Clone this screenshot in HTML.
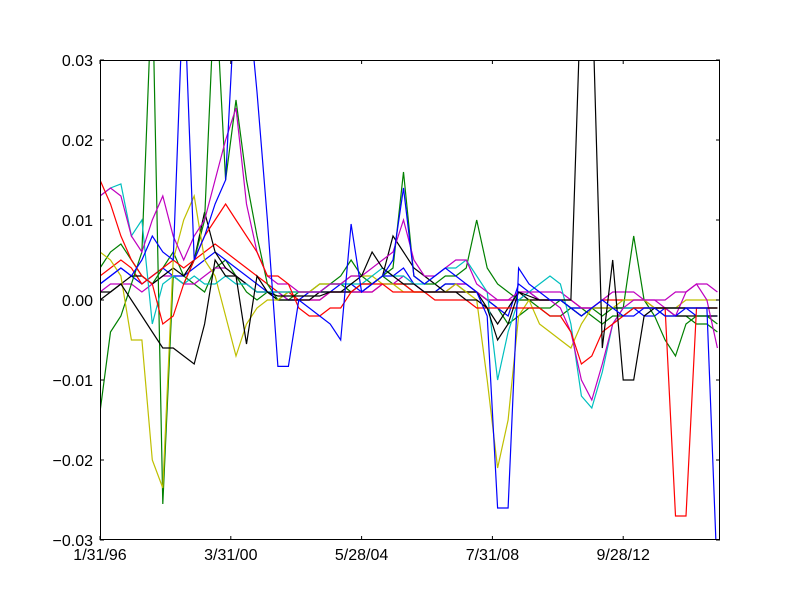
<!DOCTYPE html>
<html><head><meta charset="utf-8"><style>
body{margin:0;background:#fff}
svg text{font-family:"Liberation Sans",sans-serif;font-size:16px;fill:#000}
</style></head><body>
<svg id="chart" width="800" height="600" xmlns="http://www.w3.org/2000/svg">
<rect width="800" height="600" fill="#fff"/>
<defs><clipPath id="clip"><rect x="100" y="60" width="620" height="480"/></clipPath></defs>
<g id="series" clip-path="url(#clip)"></g>
<rect x="100.5" y="60.5" width="619" height="479" fill="none" stroke="#000"/>
<g id="axes"></g>
</svg>
<script>
// values in units of 0.001, sampled every 4 months from 1/31/96
const step = 4;
const xTickIdx = [0, 50, 100, 150, 200];
const xTickLabels = ["1/31/96", "3/31/00", "5/28/04", "7/31/08", "9/28/12"];
const yTicks = [0.03, 0.02, 0.01, 0.00, -0.01, -0.02, -0.03];
const yTickLabels = ["0.03", "0.02", "0.01", "0.00", "\u22120.01", "\u22120.02", "\u22120.03"];
const seriesColors = ["#008000","#0000ff","#000000","#ff0000","#00bfbf","#bf00bf","#bfbf00","#008000","#0000ff","#ff0000","#bf00bf","#000000"];
const seriesNames = ["green","blue","black","red","cyan","magenta","yellow","green-2","blue-2","red-2","magenta-2","black-2"];
const sGreen = [-14,-4,-2,2,6,40,-25.5,3,2,5,10,40,15,25,15,8,2,0,1,1,1,2,2,3,5,3,2,3,4,16,3,2,2,3,3,4,10,4,2,1,0,0,-1,-1,0,-1,-2,-1,-2,-1,-1,8,0,-2,-5,-7,-3,-2,-2,-3];
const sBlue = [2,3,4,3,5,8,6,5,40,5,8,12,15,40,40,26,10,-8.3,-8.3,0,-1,-2,-3,-5,9.5,1,2,3,5,14,3,2,3,4,3,2,1,-2,-26,-26,4,2,1,0,0,-1,-2,-1,0,-1,-2,-2,-1,-1,-2,-2,-1,-1,-1,-35];
const sBlack = [0,1,2,0,-2,-4,-6,-6,-7,-8,-3,5,3,3,-5.5,3,1,0.5,0.5,0.5,0.5,0.5,1,1,2,3,6,4,3,2,2,1,1,1,1,0,0,-1,-5,-3,1,0.5,0,0,0,0,40,40,-6,5,-10,-10,-2,-1,-1,-1,-1,-1,-1,-1];
const sRed = [15,12,8,5,3,2,-3,-2,2,5,8,10,12,10,8,6,3,3,2,-1,-2,-2,-1,-1,1,2,2,2,1,1,1,1,0,0,0,0,-1,-1,-1,-1,-1,-1,-1,-2,-2,-4,-8,-7,-4,-3,-2,-1,-1,-1,-1,-27,-27,-1,-1,-1];
const sCyan = [13,14,14.5,8,10,-3,2,3,2,3,2,2,3,2,2,1,1,1,1,1,1,1,2,2,2,2,3,4,3,3,2,2,3,4,4,5,3,1,-10,-4,0,1,2,3,2,-3,-12,-13.5,-9,-3,-1,-1,-1,-1,-1,-1,-1,-1,-1,-1];
const sMagenta = [13,14,13,8,6,10,13,8,5,8,10,15,20,24,12,6,3,2,2,1,1,1,2,2,3,3,4,5,6,10,5,3,3,4,5,5,2,1,0,0,1,1,0,0,-1,-4,-10,-12.5,-8,-3,-1,0,0,0,-1,-2,1,2,0,-6];
const sYellow = [6,5,3,-5,-5,-20,-23.5,5,10,13,5,3,-2,-7,-3,-1,0,0,1,1,1,2,2,2,3,3,3,2,2,1,1,1,1,1,2,1,0,-10,-21,-15,-2,0,-3,-4,-5,-6,-3,-1,-1,-1,0,0,0,-1,-1,-1,0,0,0,0];
const sGreen2 = [4,6,7,5,3,2,4,6,3,2,1,4,5,3,1,0,1,0,0,1,1,1,2,2,1,1,2,3,2,2,1,1,1,2,2,1,1,0,-1,-3,-2,-1,-1,-2,-2,-1,-1,-2,-3,-2,-2,-1,-1,-1,-2,-2,-2,-3,-3,-4];
const sBlue2 = [2,3,4,3,2,3,4,3,3,4,5,6,5,4,3,2,1,1,0,0,1,1,1,2,2,1,2,3,3,4,2,1,1,2,2,2,1,0,-1,-2,2,1,0,0,0,-1,-1,-1,-1,-1,-1,-1,-2,-2,-1,-1,-1,-2,-2,-2];
const sRed2 = [3,4,5,4,2,3,4,5,4,5,6,7,6,5,4,3,2,1,1,0,0,0,1,1,1,1,1,2,2,2,1,1,1,1,1,1,1,0,0,0,0,0,0,0,0,0,-1,-1,0,0,0,0,0,-1,-1,-1,-1,-1,-1,-1];
const sMagenta2 = [1,2,2,2,1,2,3,3,2,2,3,4,4,3,2,1,1,1,0,0,0,0,1,1,1,1,1,2,2,3,2,1,1,1,2,2,1,0,0,0,0,1,1,1,1,0,-1,-1,0,1,1,1,0,0,0,1,1,2,2,1];
const sBlack2 = [1,1,2,3,3,2,3,4,3,5,11,6,4,3,2,1,1,0,0,0,0,1,1,1,1,2,2,3,8,6,4,3,2,1,1,1,1,-1,-3,-1,1,0,0,0,0,-1,-2,-1,-1,-1,-1,-1,-1,-1,-1,-2,-2,-2,-2,-2];
const allSeries = [sGreen,sBlue,sBlack,sRed,sCyan,sMagenta,sYellow,sGreen2,sBlue2,sRed2,sMagenta2,sBlack2];

const NS = "http://www.w3.org/2000/svg";
function xPos(idx){ return 100 + idx * (620/237); }
function yPos(v){ return 300 - v * 8000; }
const g = document.getElementById("series");
const order = [7,8,9,10,11,0,6,4,5,3,2,1];
order.forEach(si => {
  const vals = allSeries[si];
  const d = vals.map((v,k)=>(k?"L":"M")+xPos(k*step).toFixed(1)+","+yPos(v/1000).toFixed(1)).join(" ");
  const p = document.createElementNS(NS,"path");
  p.setAttribute("d", d);
  p.setAttribute("fill","none");
  p.setAttribute("stroke", seriesColors[si]);
  p.setAttribute("stroke-width","1.2");
  
  
  g.appendChild(p);
});
const ax = document.getElementById("axes");


xTickIdx.forEach((idx,i)=>{
  const x = xPos(idx);
  const t1 = document.createElementNS(NS,"path");
  t1.setAttribute("d",`M${x},540 V536 M${x},60 V64`);
  t1.setAttribute("stroke","#000");
  
  
  ax.appendChild(t1);
  const t = document.createElementNS(NS,"text");
  t.setAttribute("x",x); t.setAttribute("y",560); t.setAttribute("text-anchor","middle");
  t.textContent = xTickLabels[i];
  
  
  ax.appendChild(t);
});
yTicks.forEach((v,i)=>{
  const y = yPos(v);
  const t1 = document.createElementNS(NS,"path");
  t1.setAttribute("d",`M100,${y} H104 M720,${y} H716`);
  t1.setAttribute("stroke","#000");
  
  
  ax.appendChild(t1);
  const t = document.createElementNS(NS,"text");
  t.setAttribute("x",93); t.setAttribute("y",y+6); t.setAttribute("text-anchor","end");
  t.textContent = yTickLabels[i];
  
  
  ax.appendChild(t);
});
</script>
</body></html>
